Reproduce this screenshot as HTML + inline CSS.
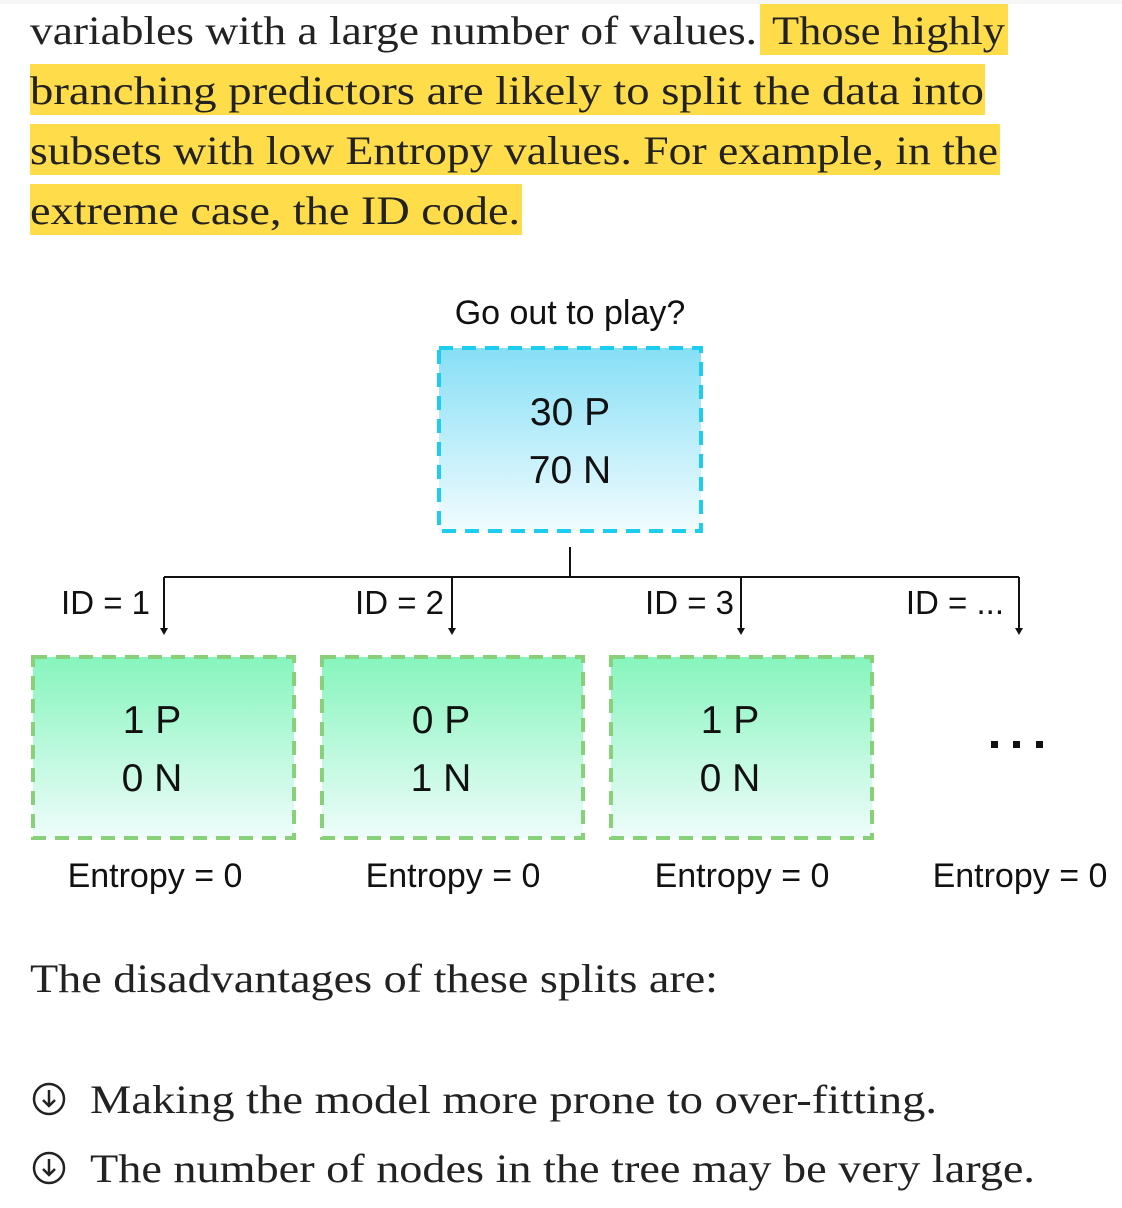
<!DOCTYPE html>
<html><head><meta charset="utf-8"><style>
html,body{margin:0;padding:0;background:#fff;}
svg{display:block;}
.s{font-family:"Liberation Serif",serif;font-size:40px;fill:#222;}
.a{font-family:"Liberation Sans",sans-serif;fill:#111;}
</style></head><body>
<svg width="1122" height="1208" viewBox="0 0 1122 1208">
<defs>
<linearGradient id="gb" x1="0" y1="0" x2="0" y2="1"><stop offset="0" stop-color="#86dff6"/><stop offset="1" stop-color="#f2fcff"/></linearGradient>
<linearGradient id="gg" x1="0" y1="0" x2="0" y2="1"><stop offset="0" stop-color="#86f5bd"/><stop offset="1" stop-color="#eefcfb"/></linearGradient>
</defs>
<rect x="0" y="0" width="1122" height="4" fill="#f6f6f6"/>
<g>
<rect x="760" y="4" width="248" height="51" fill="#ffdd4a"/>
<rect x="30" y="64" width="955" height="51" fill="#ffdd4a"/>
<rect x="30" y="124" width="970" height="51" fill="#ffdd4a"/>
<rect x="30" y="184" width="492" height="51" fill="#ffdd4a"/>
</g>
<g>
<text class="s" x="30" y="44" textLength="727" lengthAdjust="spacingAndGlyphs">variables with a large number of values.</text>
<text class="s" x="772" y="44" textLength="233" lengthAdjust="spacingAndGlyphs">Those highly</text>
<text class="s" x="30" y="104" textLength="954" lengthAdjust="spacingAndGlyphs">branching predictors are likely to split the data into</text>
<text class="s" x="30" y="164" textLength="968" lengthAdjust="spacingAndGlyphs">subsets with low Entropy values. For example, in the</text>
<text class="s" x="30" y="224" textLength="490" lengthAdjust="spacingAndGlyphs">extreme case, the ID code.</text>
</g>
<g>
<text class="a" x="570" y="324" font-size="34" text-anchor="middle">Go out to play?</text>
<rect x="439" y="348" width="262" height="183" fill="url(#gb)" stroke="#1ccdf0" stroke-width="4" stroke-dasharray="14,9"/>
<text class="a" x="570" y="425" font-size="39" text-anchor="middle">30 P</text>
<text class="a" x="570" y="483" font-size="39" text-anchor="middle">70 N</text>
<g stroke="#111" stroke-width="2" fill="none">
<line x1="570" y1="547" x2="570" y2="577"/>
<line x1="164" y1="577" x2="1019" y2="577"/>
<line x1="164" y1="577" x2="164" y2="630"/>
<line x1="452" y1="577" x2="452" y2="630"/>
<line x1="741" y1="577" x2="741" y2="630"/>
<line x1="1019" y1="577" x2="1019" y2="630"/>
</g>
<g fill="#111">
<polygon points="160,628 168,628 164,635"/>
<polygon points="448,628 456,628 452,635"/>
<polygon points="737,628 745,628 741,635"/>
<polygon points="1015,628 1023,628 1019,635"/>
</g>
<g font-size="33">
<text class="a" x="150" y="614" text-anchor="end">ID = 1</text>
<text class="a" x="444" y="614" text-anchor="end">ID = 2</text>
<text class="a" x="734" y="614" text-anchor="end">ID = 3</text>
<text class="a" x="1004" y="614" text-anchor="end">ID = ...</text>
</g>
<g>
<rect x="33" y="657" width="261" height="181" fill="url(#gg)" stroke="#88d07a" stroke-width="4" stroke-dasharray="14,9"/>
<rect x="322" y="657" width="261" height="181" fill="url(#gg)" stroke="#88d07a" stroke-width="4" stroke-dasharray="14,9"/>
<rect x="611" y="657" width="261" height="181" fill="url(#gg)" stroke="#88d07a" stroke-width="4" stroke-dasharray="14,9"/>
</g>
<g font-size="39" text-anchor="middle">
<text class="a" x="152" y="733">1 P</text><text class="a" x="152" y="791">0 N</text>
<text class="a" x="441" y="733">0 P</text><text class="a" x="441" y="791">1 N</text>
<text class="a" x="730" y="733">1 P</text><text class="a" x="730" y="791">0 N</text>
</g>
<g fill="#111">
<rect x="991" y="741" width="7" height="7"/><rect x="1013" y="741" width="7" height="7"/><rect x="1036" y="741" width="7" height="7"/>
</g>
<g font-size="34" text-anchor="middle">
<text class="a" x="155" y="887">Entropy = 0</text>
<text class="a" x="453" y="887">Entropy = 0</text>
<text class="a" x="742" y="887">Entropy = 0</text>
<text class="a" x="1020" y="887">Entropy = 0</text>
</g>
</g>
<text class="s" x="30" y="992" textLength="688" lengthAdjust="spacingAndGlyphs">The disadvantages of these splits are:</text>
<g>
<g fill="none" stroke="#222" stroke-width="2.5">
<circle cx="49" cy="1099" r="15"/><path d="M49 1090v16M43 1100l6 6 6-6"/>
<circle cx="49" cy="1168" r="15"/><path d="M49 1159v16M43 1169l6 6 6-6"/>
</g>
<text class="s" x="90" y="1113" textLength="847" lengthAdjust="spacingAndGlyphs">Making the model more prone to over-fitting.</text>
<text class="s" x="90" y="1182" textLength="945" lengthAdjust="spacingAndGlyphs">The number of nodes in the tree may be very large.</text>
</g>
</svg>
</body></html>
